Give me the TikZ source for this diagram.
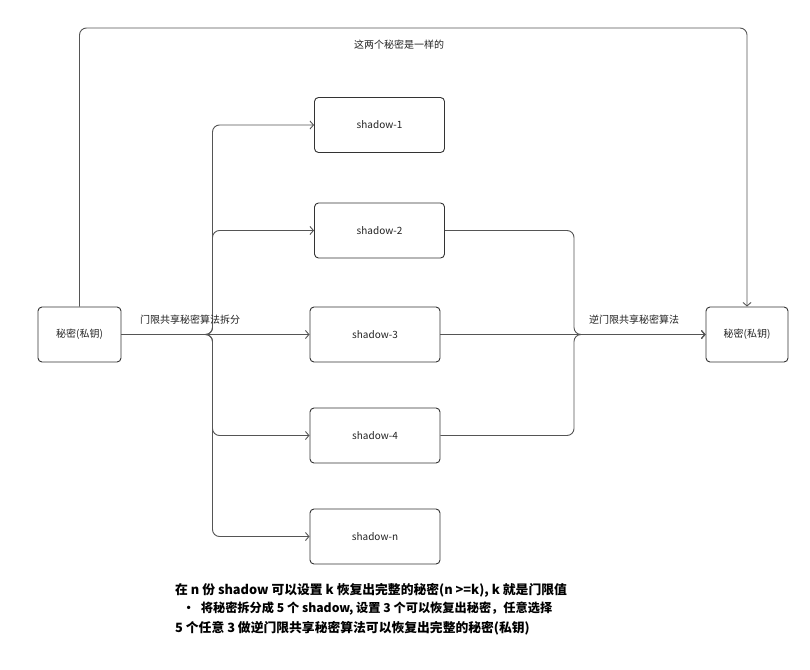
\documentclass[tikz,border=0pt]{standalone}
\usepackage{fontspec}
\setmainfont{Noto Sans CJK SC}
\usetikzlibrary{arrows.meta}
\definecolor{boxline}{HTML}{333333}
\definecolor{connline}{HTML}{555555}
\definecolor{txt}{HTML}{222222}
\tikzset{
  box/.style={draw=boxline, line width=0.9pt, rounded corners=4pt, minimum width=#1, minimum height=55pt, inner sep=0pt, font=\fontsize{10}{12}\selectfont, text=txt},
  box/.default=130pt,
  conn/.style={draw=connline, line width=0.9pt, rounded corners=7pt},
  arr/.style={-{Straight Barb[length=3.5pt,width=8pt]}},
  lbl/.style={font=\fontsize{10}{12}\selectfont, text=txt, inner sep=0pt},
  note/.style={font=\bfseries\fontsize{12.8}{14}\selectfont, text=black, inner sep=0pt, anchor=west}
}
\begin{document}
\begin{tikzpicture}[x=1pt,y=-1pt]
\useasboundingbox[fill=white] (0,0) rectangle (810,669);
\node[box=83pt] (L) at (79.5,334.5) {秘密(私钥)};
\node[box=82pt] (R) at (747,334.5) {秘密(私钥)};
\node[box] (s1) at (379.5,125) {shadow-1};
\node[box] (s2) at (379.5,230.5) {shadow-2};
\node[box] (s3) at (375,334.5) {shadow-3};
\node[box] (s4) at (375,435.5) {shadow-4};
\node[box] (sn) at (375,536.5) {shadow-n};
\coordinate (bl) at (212.5,334.5);
\coordinate (br) at (574,334.5);
\coordinate (tc) at (413,28);
% left split
\draw[conn,arr] (L.east) -- (bl) |- (s1.west);
\draw[conn,arr] (L.east) -- (bl) |- (s2.west);
\draw[conn,arr] (L.east) -- (s3.west);
\draw[conn,arr] (L.east) -- (bl) |- (s4.west);
\draw[conn,arr] (L.east) -- (bl) |- (sn.west);
% right merge
\draw[conn,arr] (s2.east) -| (br) -- (R.west);
\draw[conn,arr] (s3.east) -- (R.west);
\draw[conn,arr] (s4.east) -| (br) -- (R.west);
% top link
\draw[conn,arr] (L.north) |- (tc) -| (R.north);
% labels
\node[lbl] (la) at (190,320) {门限共享秘密算法拆分};
\node[lbl] (lb) at (634,320) {逆门限共享秘密算法};
\node[lbl] (lc) at (399,44.5) {这两个秘密是一样的};
% notes
\node[note] (n1) at (175,590) {在 n 份 shadow 可以设置 k 恢复出完整的秘密(n >=k), k 就是门限值};
\node[note, font=\bfseries\fontsize{12.2}{14}\selectfont] (n2) at (182.5,609) {•\hspace{6pt}将秘密拆分成 5 个 shadow, 设置 3 个可以恢复出秘密，任意选择};
\node[note] (n3) at (175,628) {5 个任意 3 做逆门限共享秘密算法可以恢复出完整的秘密(私钥)};
\end{tikzpicture}
\end{document}
